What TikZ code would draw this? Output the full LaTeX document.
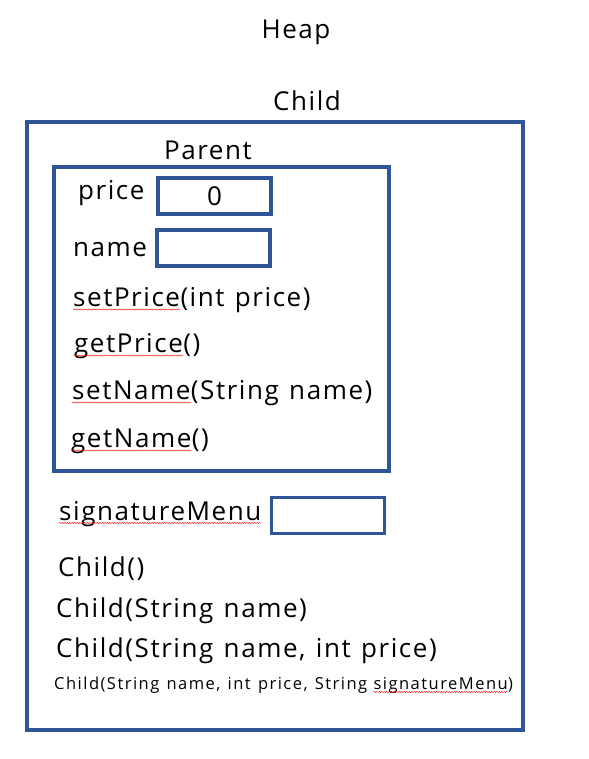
\documentclass[tikz,border=0pt]{standalone}
\usepackage{fontspec}
\setmainfont{Open Sans}[LetterSpace=6,WordSpace=1.25]
\usepackage{tikz}
\usetikzlibrary{decorations.pathmorphing}
\definecolor{boxblue}{HTML}{2F5597}

\begin{document}
\begin{tikzpicture}[x=1pt,y=-1pt]
\tikzset{frame/.style = {draw=boxblue,line width=3.5pt,inner sep=0pt}}
\tikzset{valbox/.style = {frame,minimum width=113pt,minimum height=36pt,font=\fontsize{26}{30}\selectfont}}
\tikzset{lbl/.style = {anchor=base west,inner sep=0pt,font=\fontsize{26}{30}\selectfont}}
\tikzset{small/.style = {anchor=base west,inner sep=0pt,font=\fontsize{16.5}{19}\selectfont\addfontfeature{LetterSpace=9}}}
\tikzset{title/.style = {inner sep=0pt,font=\fontsize{26}{30}\selectfont}}
\tikzset{squig/.style = {draw=red,line width=0.4pt,decorate,decoration={snake,amplitude=0.6pt,segment length=2.5pt}}}
\useasboundingbox (0,0) rectangle (588,759);
% titles
\node[title] (heap) at (296,32) {Heap};
\node[title] (childt) at (307,101) {Child};
% outer object
\node[frame,minimum width=496pt,minimum height=608pt] (child) at (275,426) {};
\node[title] (parentt) at (208,150) {Parent};
\node[frame,minimum width=335pt,minimum height=304pt] (parent) at (221.5,319) {};
% fields
\node[lbl] (price) at (78,200) {price};
\node[valbox] (pricebox) at (214.5,196) {0};
\node[lbl] (name) at (73,256.5) {name};
\node[valbox] (namebox) at (213.5,248) {};
% methods
\node[lbl] (setp) at (73,306.5) {setPrice};
\node[lbl] (setpr) at (setp.base east) {(int price)};
\node[lbl] (getp) at (74,352.5) {getPrice};
\node[lbl] (getpr) at (getp.base east) {()};
\node[lbl] (setn) at (72,399.5) {setName};
\node[lbl] (setnr) at (setn.base east) {(String name)};
\node[lbl] (getn) at (71,447.5) {getName};
\node[lbl] (getnr) at (getn.base east) {()};
% child members
\node[lbl] (sig) at (59,520) {signatureMenu};
\node[valbox] (sigbox) at (328,515.5) {};
\node[lbl] (c0) at (58,576) {Child()};
\node[lbl] (c1) at (56,617) {Child(String name)};
\node[lbl] (c2) at (56,657) {Child(String name, int price)};
\node[small] (c3) at (54,689) {Child(String name, int price, String};
\node[small] (c3s) at ([xshift=6pt]c3.base east) {signatureMenu};
\node[small] (c3r) at (c3s.base east) {)};
% spell check marks
\foreach \w in {setp,getp,setn,getn,sig,c3s}
  \draw[squig] ([yshift=-3pt]\w.base west) -- ([yshift=-3pt]\w.base east);
\end{tikzpicture}
\end{document}
